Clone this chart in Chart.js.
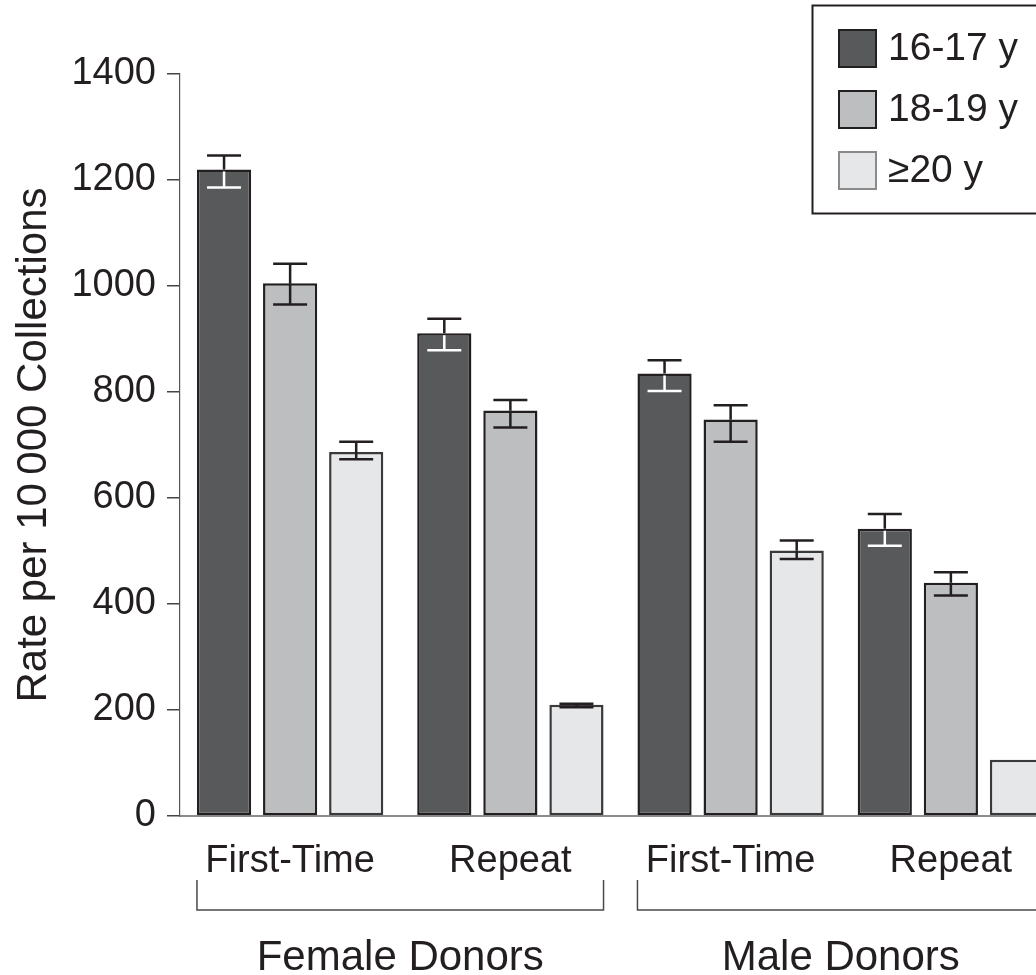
<!DOCTYPE html>
<html>
<head>
<meta charset="utf-8">
<script src="https://cdn.jsdelivr.net/npm/chart.js@4/dist/chart.umd.min.js"></script>
<style>
  html, body { margin: 0; padding: 0; background: #ffffff; overflow: hidden; }
  #wrap { position: relative; width: 1072px; height: 975px; }
</style>
</head>
<body>
<div id="wrap"><canvas id="chart"></canvas></div>
<script>
// Donor type along the x axis, grouped by sex
const categories = ['First-Time', 'Repeat', 'First-Time', 'Repeat'];
const groupNames = ['Female Donors', 'Male Donors'];
const ageGroups = ['16-17 y', '18-19 y', '\u226520 y'];

// Rate per 10 000 collections, by age group
const rate16to17 = [1220, 911, 835, 542];
const rate18to19 = [1005, 765, 748, 440];
const rate20plus = [687, 210, 501, 106];

// Confidence limits for each bar
const low16to17 = [1186, 879, 802, 510];
const high16to17 = [1246, 938, 860, 570];
const low18to19 = [965, 733, 706, 416];
const high18to19 = [1042, 785, 775, 460];
const low20plus = [673, 205, 485, null];
const high20plus = [706, 212, 520, null];

// Value axis
const yMin = 0;
const yMax = 1400;
const yStep = 200;
const yTitle = 'Rate per 10\u2009000 Collections';

const FONT = '"Liberation Sans", Arial, Helvetica, sans-serif';
const INK = '#231f20';

const fills = ['#58595b', '#bcbec0', '#e6e7e8'];
const edges = [INK, INK, '#3a3a3a'];
const swatchEdges = [INK, INK, '#8a8a8a'];

const lows = [low16to17, low18to19, low20plus];
const highs = [high16to17, high18to19, high20plus];

// Error bars; on the darkest bars the part inside the bar is white
const errorBars = {
  id: 'errorBars',
  afterDatasetsDraw(chart) {
    const ctx = chart.ctx;
    const y = chart.scales.y;
    const cap = 17;
    chart.data.datasets.forEach((ds, i) => {
      const meta = chart.getDatasetMeta(i);
      meta.data.forEach((bar, j) => {
        const lo = lows[i][j], hi = highs[i][j];
        if (lo == null || hi == null) return;
        const x = bar.x;
        const yHi = y.getPixelForValue(hi);
        const yLo = y.getPixelForValue(lo);
        const yTop = bar.y;
        ctx.save();
        ctx.lineWidth = 2.5;
        ctx.lineCap = 'butt';
        // upper half, above the bar
        ctx.strokeStyle = INK;
        ctx.beginPath();
        ctx.moveTo(x, yTop); ctx.lineTo(x, yHi);
        ctx.moveTo(x - cap, yHi); ctx.lineTo(x + cap, yHi);
        ctx.stroke();
        // lower half, inside the bar
        ctx.strokeStyle = i === 0 ? '#ffffff' : INK;
        ctx.beginPath();
        ctx.moveTo(x, yTop + (i === 0 ? 2 : 0)); ctx.lineTo(x, yLo);
        ctx.moveTo(x - cap, yLo); ctx.lineTo(x + cap, yLo);
        ctx.stroke();
        ctx.restore();
      });
    });
  }
};

// Brackets under the donor types, group names, and the boxed key
const decorations = {
  id: 'decorations',
  afterDraw(chart) {
    const ctx = chart.ctx;
    const area = chart.chartArea;
    const first = chart.getDatasetMeta(0).data;
    const last = chart.getDatasetMeta(2).data;
    const spans = [
      [first[0].x - first[0].width / 2, last[1].x + last[1].width / 2],
      [first[2].x - first[2].width / 2, last[3].x + last[3].width / 2]
    ];
    const yTick = area.bottom + 64;
    const yLine = area.bottom + 94;
    ctx.save();
    ctx.strokeStyle = '#4a4a4a';
    ctx.lineWidth = 1.5;
    spans.forEach(([a, b], k) => {
      ctx.beginPath();
      ctx.moveTo(a, yTick); ctx.lineTo(a, yLine); ctx.lineTo(b, yLine); ctx.lineTo(b, yTick);
      ctx.stroke();
      ctx.fillStyle = INK;
      ctx.font = '42px ' + FONT;
      ctx.textAlign = 'center';
      ctx.textBaseline = 'alphabetic';
      ctx.fillText(groupNames[k], (a + b) / 2, area.bottom + 154);
    });

    // key
    const bx = 812.5, by = 5.5;
    ctx.strokeStyle = INK;
    ctx.lineWidth = 2;
    ctx.strokeRect(bx, by, chart.width - bx + 20, 208);
    ctx.font = '39px ' + FONT;
    ctx.textAlign = 'left';
    ctx.textBaseline = 'middle';
    chart.data.datasets.forEach((ds, i) => {
      const sy = 30 + i * 61;
      ctx.fillStyle = fills[i];
      ctx.fillRect(839, sy, 37, 37);
      ctx.strokeStyle = swatchEdges[i];
      ctx.strokeRect(839, sy, 37, 37);
      ctx.fillStyle = INK;
      ctx.fillText(ds.label, 888, sy + 19.5);
    });
    ctx.restore();
  }
};

const datasets = [rate16to17, rate18to19, rate20plus].map((values, i) => ({
  label: ageGroups[i],
  data: values,
  backgroundColor: fills[i],
  borderColor: edges[i],
  borderWidth: 2.5,
  borderSkipped: false,
  categoryPercentage: 0.9,
  barPercentage: 0.82
}));

new Chart(document.getElementById('chart'), {
  type: 'bar',
  data: { labels: categories, datasets },
  options: {
    responsive: true,
    maintainAspectRatio: false,
    animation: false,
    devicePixelRatio: 1,
    layout: { padding: { top: 74, right: 11, left: 0, bottom: 0 } },
    plugins: {
      legend: { display: false },
      tooltip: { enabled: false },
      title: { display: false }
    },
    scales: {
      x: {
        grid: { display: false, drawTicks: false },
        border: { display: true, color: '#8c8c8c', width: 2 },
        ticks: {
          padding: 23,
          color: INK,
          font: { family: FONT, size: 38 },
          maxRotation: 0
        },
        afterFit(scale) { scale.height = 159; }
      },
      y: {
        min: yMin,
        max: yMax,
        grid: {
          display: true,
          drawOnChartArea: false,
          drawTicks: true,
          tickLength: 13,
          color: '#444444',
          lineWidth: 1.5
        },
        border: { display: true, color: '#555555', width: 1.2 },
        ticks: {
          stepSize: yStep,
          padding: 11,
          color: INK,
          font: { family: FONT, size: 38 },
          callback: (v) => String(v)
        },
        title: {
          display: true,
          text: yTitle,
          color: INK,
          font: { family: FONT, size: 42 },
          padding: { top: 9, bottom: 0 }
        },
        afterFit(scale) { scale.width = 180; }
      }
    }
  },
  plugins: [errorBars, decorations]
});
</script>
</body>
</html>
